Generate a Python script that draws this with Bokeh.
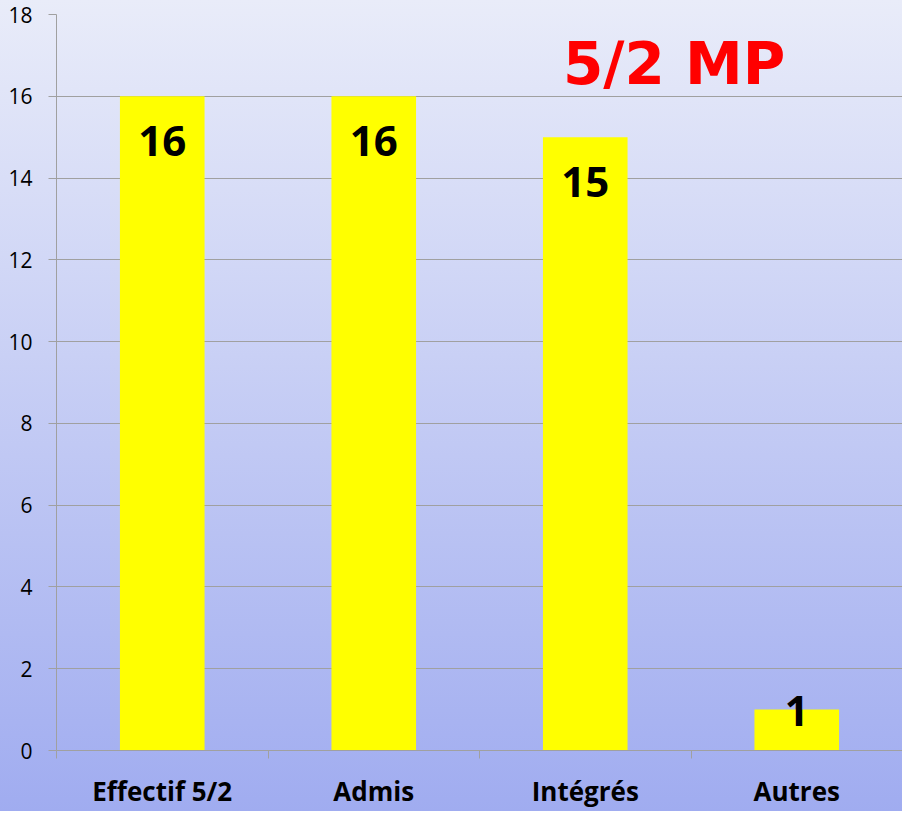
from bokeh.plotting import figure
from bokeh.models import ColumnDataSource, FixedTicker, Range1d, Label, LabelSet
from bokeh.core.properties import value
from bokeh.embed import file_html
from bokeh.resources import INLINE

categories = ["Effectif 5/2", "Admis", "Intégrés", "Autres"]
values = [16, 16, 15, 1]
y_ticks = [0, 2, 4, 6, 8, 10, 12, 14, 16, 18]
title_text = "5/2 MP"

xs = [i + 0.5 for i in range(len(categories))]
label_offsets = [-45 if v > 2 else -1 for v in values]
src = ColumnDataSource(dict(x=xs, top=values, lab=[str(v) for v in values], off=label_offsets))

p = figure(width=902, height=811, output_backend="svg", toolbar_location=None,
           x_range=Range1d(0, len(categories)), y_range=Range1d(0, 18),
           min_border_left=56, min_border_right=0, min_border_top=14, min_border_bottom=56)
p.background_fill_alpha = 0
p.border_fill_alpha = 0
p.outline_line_color = None
p.styles = {"background-image": "linear-gradient(to bottom, #E9ECF9 0%, #A0ACF0 100%)"}

p.vbar(x="x", top="top", width=0.4, bottom=0, source=src, fill_color="#FFFF00", line_color=None)

p.add_layout(LabelSet(x="x", y="top", text="lab", y_offset="off", source=src,
                      text_align="center", text_baseline="middle",
                      text_font=value("Open Sans"), text_font_style="bold", text_font_size="42px",
                      text_color="black"))

p.add_layout(Label(x=2.92, y=16.8, text=title_text, text_align="center", text_baseline="middle",
                   text_font="DejaVu Sans", text_font_style="bold", text_font_size="58px",
                   text_color="#FF0000"))

# y axis
p.yaxis.ticker = FixedTicker(ticks=y_ticks)
p.yaxis.minor_tick_line_color = None
p.yaxis.major_tick_out = 8
p.yaxis.major_tick_in = 0
p.yaxis.major_tick_line_color = "#A0A0A0"
p.yaxis.axis_line_color = "#A0A0A0"
p.yaxis.major_label_text_font = "Open Sans"
p.yaxis.major_label_text_font_size = "21px"
p.yaxis.major_label_text_color = "black"
p.yaxis.major_label_standoff = 16

# x axis
p.xaxis.ticker = FixedTicker(ticks=xs, minor_ticks=list(range(len(categories) + 1)))
p.xaxis.major_label_overrides = {x: c for x, c in zip(xs, categories)}
p.xaxis.major_tick_line_color = None
p.xaxis.minor_tick_out = 8
p.xaxis.minor_tick_in = 0
p.xaxis.minor_tick_line_color = "#A0A0A0"
p.xaxis.axis_line_color = "#A0A0A0"
p.xaxis.major_label_text_font = "Open Sans"
p.xaxis.major_label_text_font_style = "bold"
p.xaxis.major_label_text_font_size = "26px"
p.xaxis.major_label_text_color = "black"
p.xaxis.major_label_standoff = 14

p.xgrid.grid_line_color = None
p.ygrid.grid_line_color = "#A0A0A0"
p.ygrid.ticker = FixedTicker(ticks=y_ticks)

open("out.html", "w").write(file_html(p, INLINE))
